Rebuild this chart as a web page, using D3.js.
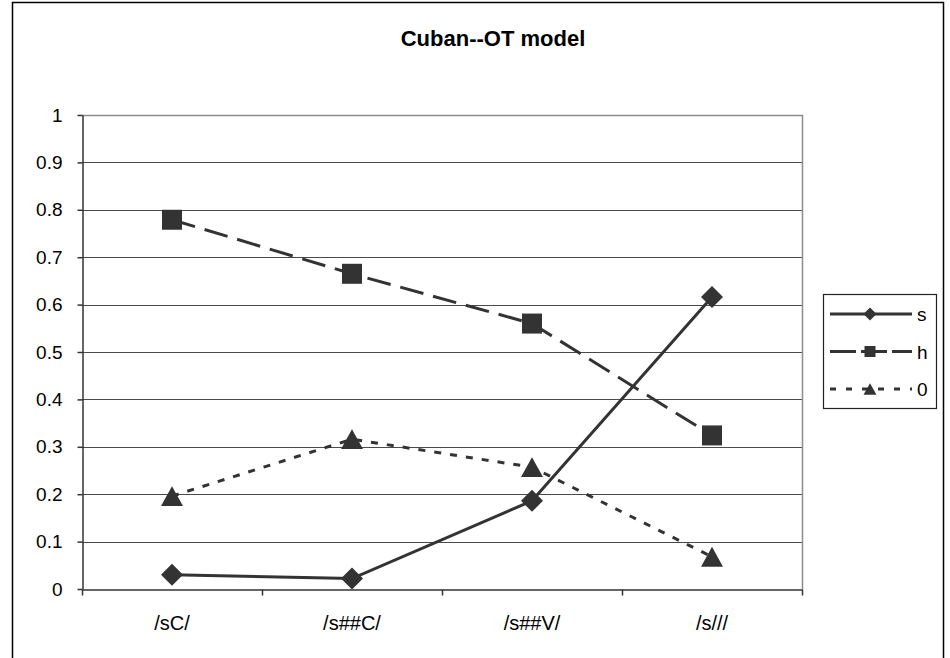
<!DOCTYPE html>
<html>
<head>
<meta charset="utf-8">
<script src="https://cdn.jsdelivr.net/npm/d3@7"></script>
<style>
  body { margin: 0; background: #fff; }
  svg { display: block; font-family: "Liberation Sans", Arial, sans-serif; }
</style>
</head>
<body>
<div id="chart"></div>
<script>
// Cuban--OT model — three series over four contexts
const categories = ["/sC/", "/s##C/", "/s##V/", "/s///"];
const sValues = [0.03, 0.022, 0.186, 0.616];
const hValues = [0.779, 0.665, 0.56, 0.324];
const zeroValues = [0.196, 0.316, 0.257, 0.068];
const yTicks = [0, 0.1, 0.2, 0.3, 0.4, 0.5, 0.6, 0.7, 0.8, 0.9, 1];
const yTickLabels = ["0", "0.1", "0.2", "0.3", "0.4", "0.5", "0.6", "0.7", "0.8", "0.9", "1"];

const series = [
  { name: "s", values: sValues, dash: null, marker: "diamond" },
  { name: "h", values: hValues, dash: "24,10", marker: "square" },
  { name: "0", values: zeroValues, dash: "7,9", marker: "triangle" },
];

const width = 950, height = 658;
const plot = { left: 82, top: 115, right: 802, bottom: 589 };
const ink = "#333333";

const svg = d3.select("#chart").append("svg")
  .attr("width", width).attr("height", height);

// outer chart frame (bottom edge runs off the picture)
svg.append("rect")
  .attr("x", 12.5).attr("y", 2.5)
  .attr("width", 931).attr("height", 700)
  .attr("fill", "none").attr("stroke", "#000").attr("stroke-width", 1.5);

svg.append("text")
  .attr("x", 493).attr("y", 46)
  .attr("text-anchor", "middle")
  .attr("font-size", 22).attr("font-weight", "bold")
  .text("Cuban--OT model");

const x = d3.scaleBand().domain(categories).range([plot.left, plot.right]).padding(0);
const y = d3.scaleLinear().domain([0, 1]).range([plot.bottom, plot.top]);
const cx = (c) => x(c) + x.bandwidth() / 2;

// gridlines
svg.append("g")
  .selectAll("line")
  .data(yTicks.filter((t) => t > 0 && t < 1))
  .join("line")
  .attr("x1", plot.left).attr("x2", plot.right)
  .attr("y1", (d) => Math.round(y(d)) + 0.5).attr("y2", (d) => Math.round(y(d)) + 0.5)
  .attr("stroke", "#4a4a4a").attr("stroke-width", 1);

// plot area border: grey top and right
svg.append("path")
  .attr("d", `M${plot.left},${plot.top + 0.5}H${plot.right + 0.5}V${plot.bottom}`)
  .attr("fill", "none").attr("stroke", "#8c8c8c").attr("stroke-width", 1.5);

// y axis
const yAxis = svg.append("g")
  .attr("transform", `translate(${plot.left + 0.5},0)`)
  .call(d3.axisLeft(y).tickValues(yTicks)
    .tickFormat((d, i) => yTickLabels[i]).tickSize(5).tickPadding(15).tickSizeOuter(0));
yAxis.selectAll("text").attr("font-size", 19).attr("fill", "#000")
  .attr("font-family", "Liberation Sans, Arial, sans-serif");
yAxis.selectAll("line, path").attr("stroke", ink).attr("stroke-width", 1.5);

// x axis: labels at category centres, ticks on boundaries
const xAxis = svg.append("g")
  .attr("transform", `translate(0,${plot.bottom + 0.5})`)
  .call(d3.axisBottom(x).tickSize(0).tickPadding(26).tickSizeOuter(0));
xAxis.selectAll("text").attr("font-size", 20).attr("fill", "#000")
  .attr("font-family", "Liberation Sans, Arial, sans-serif");
xAxis.select("path").attr("stroke", ink).attr("stroke-width", 1.5);
xAxis.append("g").selectAll("line")
  .data(categories.map((c) => x(c)).concat([plot.right]))
  .join("line")
  .attr("x1", (d) => d + 0.5).attr("x2", (d) => d + 0.5)
  .attr("y1", 0).attr("y2", 6)
  .attr("stroke", ink).attr("stroke-width", 1.5);

// marker outlines, w = width in pixels
function marker(kind, w) {
  const h = w / 2;
  if (kind === "diamond") return `M0,${-h}L${h},0L0,${h}L${-h},0Z`;
  if (kind === "square") return `M${-h},${-h}H${h}V${h}H${-h}Z`;
  const th = w * 0.9;
  return `M0,${-th / 2}L${h},${th / 2}H${-h}Z`;
}

const line = d3.line()
  .x((d, i) => cx(categories[i]))
  .y((d) => y(d));

series.forEach((s) => {
  const g = svg.append("g");
  g.append("path")
    .datum(s.values)
    .attr("d", line)
    .attr("fill", "none")
    .attr("stroke", ink)
    .attr("stroke-width", 3)
    .attr("stroke-dasharray", s.dash);
  const size = s.marker === "square" ? 20 : 22;
  g.selectAll("path.m")
    .data(s.values)
    .join("path")
    .attr("class", "m")
    .attr("d", marker(s.marker, size))
    .attr("transform", (d, i) => `translate(${cx(categories[i])},${y(d)})`)
    .attr("fill", ink);
});

// legend
const legend = svg.append("g");
legend.append("rect")
  .attr("x", 823.5).attr("y", 294.5).attr("width", 113).attr("height", 114)
  .attr("fill", "#fff").attr("stroke", "#222").attr("stroke-width", 1.2);
series.forEach((s, i) => {
  const ly = 314 + i * 37.5;
  legend.append("line")
    .attr("x1", 830).attr("x2", 912).attr("y1", ly).attr("y2", ly)
    .attr("stroke", ink).attr("stroke-width", 3)
    .attr("stroke-dasharray", s.dash === null ? null : (s.marker === "square" ? "26,5" : "6,10"));
  legend.append("path")
    .attr("d", marker(s.marker, s.marker === "square" ? 11 : 13))
    .attr("transform", `translate(870,${ly})`)
    .attr("fill", ink);
  legend.append("text")
    .attr("x", 917).attr("y", ly + 7)
    .attr("font-size", 19)
    .text(s.name);
});
</script>
</body>
</html>
